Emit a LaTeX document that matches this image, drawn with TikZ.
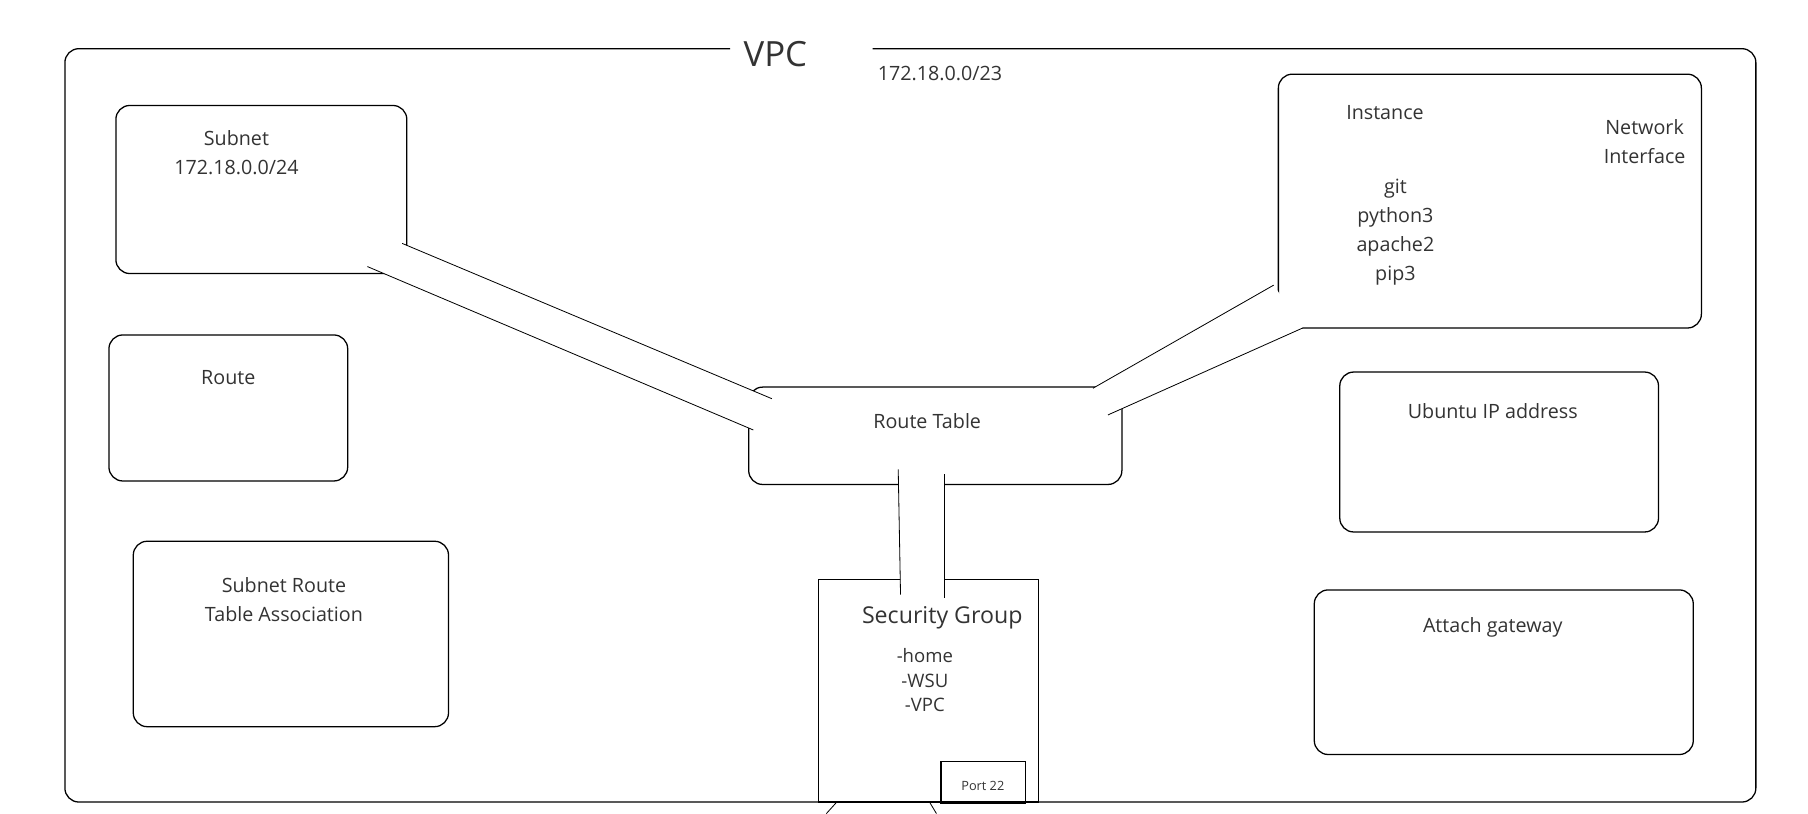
\documentclass[tikz,border=0pt]{standalone}
\usepackage{fontspec}
\setmainfont{Open Sans}
\usepackage{tikz}
\definecolor{ink}{HTML}{333333}
\tikzstyle{box} = [draw, rounded corners=12pt, line width=1.1pt, inner sep=0pt]
\tikzstyle{sqbox} = [draw, line width=1.1pt, inner sep=0pt]
\tikzstyle{txt} = [text=ink, align=center, inner sep=0pt, font=\fontsize{17}{25}\selectfont]
\tikzstyle{pipe} = [line width=0.7pt]

\begin{document}
\begin{tikzpicture}[x=1pt, y=-1pt]

    \useasboundingbox (0,0) rectangle (1560,702);

    % vpc frame
    \draw [line width=1.1pt, rounded corners=12pt] (630,42) -- (56,42) -- (56,692) -- (722,692);
    \draw [line width=1.1pt, rounded corners=12pt] (802,692) -- (1515,692) -- (1515,42) -- (753,42);
    \draw [pipe] (722,692) -- (713,702);
    \draw [pipe] (802,692) -- (808,702);

    \node [box, minimum width=251pt, minimum height=145pt, name = sub] at (225.5,163.5) {};
    \node [box, minimum width=206pt, minimum height=126pt, name = rte] at (197,352) {};
    \node [box, minimum width=272pt, minimum height=160pt, name = assoc] at (251,547) {};
    \node [box, minimum width=322pt, minimum height=84pt, name = rtab] at (807,376) {};
    \node [box, minimum width=365pt, minimum height=219pt, name = inst] at (1285.5,173.5) {};
    \node [box, minimum width=275pt, minimum height=138pt, name = ubu] at (1293.5,390) {};
    \node [box, minimum width=327pt, minimum height=142pt, name = gw] at (1297.5,580) {};
    \node [sqbox, minimum width=190pt, minimum height=192pt, name = sg] at (801,596) {};
    \node [sqbox, minimum width=73pt, minimum height=35pt, name = port] at (848.5,674.5) {};
    \draw [line width=2.5pt] (port.south west) -- (port.south east);

    % pipe ends
    \coordinate (sub1) at (347,210);   \coordinate (tab1) at (666,344);
    \coordinate (sub2) at (317,230);   \coordinate (tab2) at (650,371);
    \coordinate (tab3) at (943,335);   \coordinate (ins1) at (1099,246);
    \coordinate (tab4) at (956,358);   \coordinate (ins2) at (1124,283);
    \coordinate (tab5) at (775,405);   \coordinate (sg1) at (777,513);
    \coordinate (tab6) at (815,409);   \coordinate (sg2) at (815,516);

    \fill [white] (sub1) -- (tab1) -- (tab2) -- (sub2) -- cycle;
    \fill [white] (tab3) -- (ins1) -- (ins2) -- (tab4) -- cycle;
    \fill [white] (tab5) -- (sg1) -- (sg2) -- (tab6) -- cycle;
    \draw [pipe] (sub1) -- (tab1);
    \draw [pipe] (sub2) -- (tab2);
    \draw [pipe] (tab3) -- (ins1);
    \draw [pipe] (tab4) -- (ins2);
    \draw [pipe] (tab5) -- (sg1);
    \draw [pipe] (tab6) -- (sg2);

    \node [txt, font=\fontsize{30}{36}\selectfont, name = vpc] at (669,47) {VPC};
    \node [txt, name = cidr] at (811,63) {172.18.0.0/23};
    \node [txt, name = subt] at (204,132) {Subnet\\172.18.0.0/24};
    \node [txt, name = rtet] at (197,326) {Route};
    \node [txt, name = assoct] at (245,517) {Subnet Route\\Table Association};
    \node [txt, name = rtabt] at (800,363) {Route Table};
    \node [txt, name = instt] at (1195,97) {Instance};
    \node [txt, name = nic] at (1419,122) {Network\\Interface};
    \node [txt, name = pkgs] at (1204,200) {git\\python3\\apache2\\pip3};
    \node [txt, name = ubut] at (1288,355) {Ubuntu IP address};
    \node [txt, name = gwt] at (1288,541) {Attach gateway};
    \node [txt, font=\fontsize{20}{24}\selectfont, name = sgt] at (813,533) {Security Group};
    \node [txt, font=\fontsize{16}{21}\selectfont, name = rules] at (798,587) {-home\\-WSU\\-VPC};
    \node [txt, font=\fontsize{11}{13}\selectfont, name = portt] at (848,678) {Port 22};

\end{tikzpicture}
\end{document}
